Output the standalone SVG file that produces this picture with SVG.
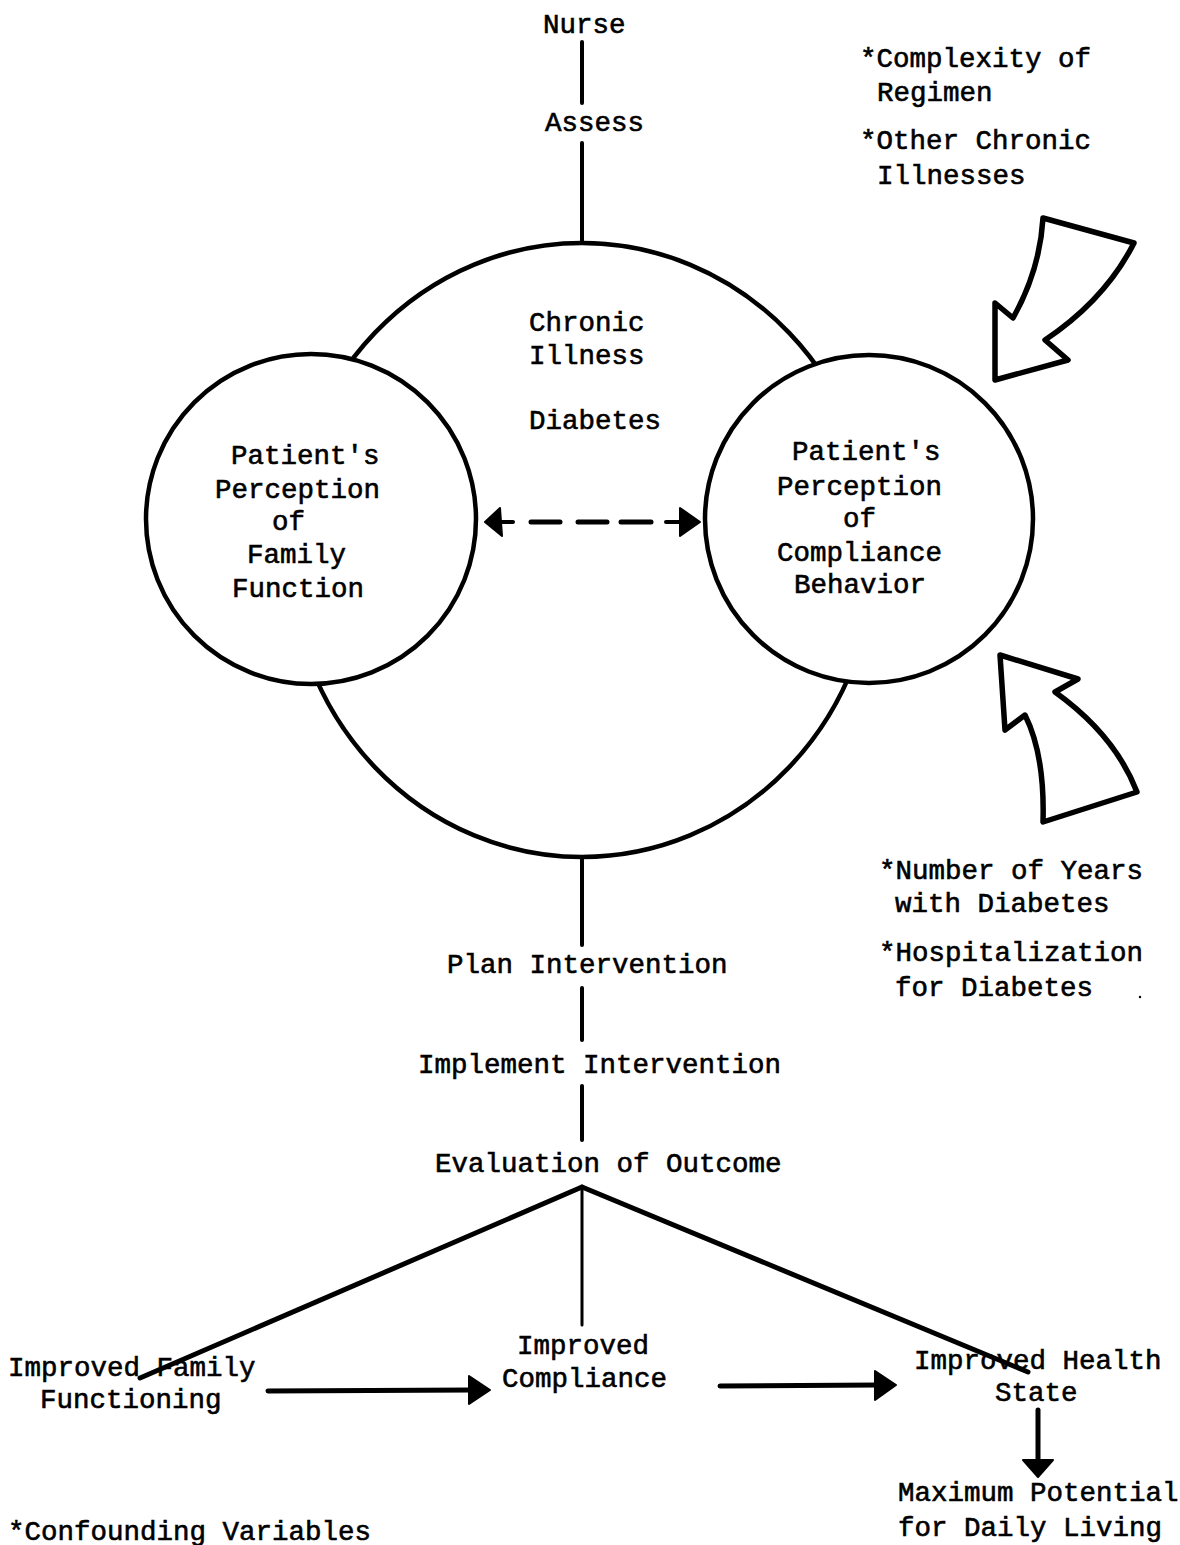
<svg xmlns="http://www.w3.org/2000/svg" width="1180" height="1545" viewBox="0 0 1180 1545">
  <style>
    text { font-family: "Liberation Mono", "Courier New", monospace; font-size: 27.5px; fill: #000; stroke: #000; stroke-width: 0.6; }
    .shape { fill: #fff; stroke: #000; stroke-width: 4.5; }
    .ln { stroke: #000; stroke-width: 4; fill: none; stroke-linecap: round; }
    .thick { stroke-width: 5; }
    .thin { stroke-width: 3; }
    .dash { stroke-width: 5; }
    .head { fill: #000; stroke: #000; stroke-width: 2; stroke-linejoin: round; }
    .bigarrow { fill: #fff; stroke: #000; stroke-width: 5.5; stroke-linejoin: round; }
  </style>
  <rect width="1180" height="1545" fill="#fff"/>

  <g id="node-chronic-illness">
    <ellipse class="shape" cx="582" cy="550" rx="293" ry="307"/>
    <text x="529" y="331">Chronic</text>
    <text x="529" y="364">Illness</text>
    <text x="529" y="429">Diabetes</text>
  </g>

  <g id="node-family-function">
    <circle class="shape" cx="311" cy="519" r="165"/>
    <text x="231" y="464">Patient's</text>
    <text x="215" y="498">Perception</text>
    <text x="272" y="530">of</text>
    <text x="247" y="563">Family</text>
    <text x="232" y="597">Function</text>
  </g>

  <g id="node-compliance-behavior">
    <circle class="shape" cx="869" cy="519" r="164"/>
    <text x="792" y="460">Patient's</text>
    <text x="777" y="495">Perception</text>
    <text x="843" y="527">of</text>
    <text x="777" y="561">Compliance</text>
    <text x="794" y="593">Behavior</text>
  </g>

  <g id="node-nurse"><text x="543" y="33">Nurse</text></g>
  <g id="node-assess"><text x="545" y="131">Assess</text></g>
  <g id="node-plan"><text x="447" y="973">Plan Intervention</text></g>
  <g id="node-implement"><text x="418" y="1073">Implement Intervention</text></g>
  <g id="node-evaluation"><text x="435" y="1172">Evaluation of Outcome</text></g>

  <g id="node-improved-family">
    <text x="8" y="1376">Improved Family</text>
    <text x="40" y="1408">Functioning</text>
  </g>
  <g id="node-improved-compliance">
    <text x="517" y="1354">Improved</text>
    <text x="502" y="1387">Compliance</text>
  </g>
  <g id="node-improved-health">
    <text x="914" y="1369">Improved Health</text>
    <text x="995" y="1401">State</text>
  </g>
  <g id="node-maximum-potential">
    <text x="898" y="1501">Maximum Potential</text>
    <text x="898" y="1536">for Daily Living</text>
  </g>
  <g id="node-confounding"><text x="8" y="1540">*Confounding Variables</text></g>

  <g id="node-top-variables">
    <text x="860" y="67">*Complexity of</text>
    <text x="877" y="101">Regimen</text>
    <text x="860" y="149">*Other Chronic</text>
    <text x="877" y="184">Illnesses</text>
  </g>
  <g id="node-bottom-variables">
    <text x="879" y="879">*Number of Years</text>
    <text x="895" y="912">with Diabetes</text>
    <text x="879" y="961">*Hospitalization</text>
    <text x="895" y="996">for Diabetes</text>
  </g>

  <g id="node-arrow-in-top">
    <path class="bigarrow" d="M1043,218 L1134,243 Q1105,300 1045,340 L1068,360 L995,380 L995,303 L1013,318 Q1040,270 1043,218 Z"/>
  </g>
  <g id="node-arrow-in-bottom">
    <path class="bigarrow" d="M1000,655 L1078,679 L1055,692 Q1115,735 1137,792 L1043,822 Q1045,755 1025,715 L1005,730 Z"/>
  </g>

  <g id="connectors">
    <line class="ln" x1="582" y1="42" x2="582" y2="103"/>
    <line class="ln" x1="582" y1="143" x2="582" y2="243"/>
    <line class="ln" x1="582" y1="857" x2="582" y2="945"/>
    <line class="ln" x1="582" y1="988" x2="582" y2="1040"/>
    <line class="ln" x1="582" y1="1086" x2="582" y2="1140"/>
    <line class="ln thick" x1="582" y1="1187" x2="140" y2="1378"/>
    <line class="ln thin" x1="582" y1="1187" x2="582" y2="1325"/>
    <line class="ln thick" x1="582" y1="1187" x2="1028" y2="1372"/>
    <g id="dashed-arrow">
      <path class="head" d="M485,522 L500,508 L502,536 Z"/>
      <line class="ln" x1="500" y1="522" x2="513" y2="522"/>
      <line class="ln dash" x1="531" y1="522" x2="560" y2="522"/>
      <line class="ln dash" x1="578" y1="522" x2="607" y2="522"/>
      <line class="ln dash" x1="621" y1="522" x2="651" y2="522"/>
      <line class="ln" x1="666" y1="522" x2="680" y2="522"/>
      <path class="head" d="M700,522 L680,508 L680,536 Z"/>
    </g>
    <g id="arrow-family-compliance">
      <line class="ln thick" x1="268" y1="1391" x2="472" y2="1390"/>
      <path class="head" d="M469,1376 L490,1390 L469,1404 Z"/>
    </g>
    <g id="arrow-compliance-health">
      <line class="ln thick" x1="720" y1="1386" x2="878" y2="1385"/>
      <path class="head" d="M875,1371 L896,1385 L875,1400 Z"/>
    </g>
    <g id="arrow-health-potential">
      <line class="ln thick" x1="1038" y1="1410" x2="1038" y2="1462"/>
      <path class="head" d="M1023,1460 L1053,1460 L1038,1477 Z"/>
    </g>
  </g>
  <circle cx="1140" cy="997" r="1.2" fill="#000"/>
</svg>
